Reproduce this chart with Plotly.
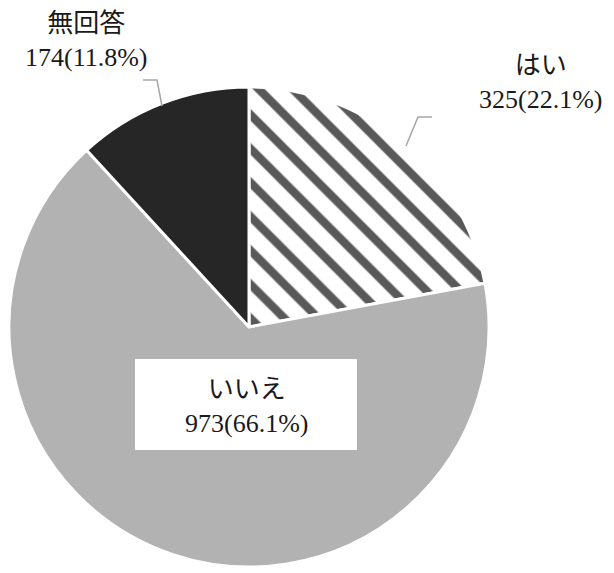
import plotly.graph_objects as go

W, H = 614, 573
OFF = 8  # the page body has an 8px margin

labels = ["はい", "いいえ", "無回答"]
counts = [325, 973, 174]
percents = [22.1, 66.1, 11.8]

colors = ["white", "#b2b2b2", "#262626"]
FONT = "Liberation Serif, DejaVu Serif, Noto Sans CJK JP, serif"

FW, FH = W - OFF, H - OFF


def px(x, y):
    # page pixel position -> paper coords (margins are zero)
    return (x - OFF) / FW, 1 - (y - OFF) / FH


fig = go.Figure()
dx0, dy0 = px(9, 567)
dx1, dy1 = px(489, 87)
fig.add_trace(go.Pie(
    labels=labels, values=counts,
    sort=False, direction="clockwise", rotation=0,
    textinfo="none", hoverinfo="label+value+percent",
    marker=dict(
        colors=colors,
        line=dict(color="white", width=3),
        pattern=dict(
            shape=["\\", "", ""],
            fgcolor="#595959", bgcolor="white",
            size=24, solidity=0.35, fillmode="replace",
        ),
    ),
    domain=dict(x=[dx0, dx1], y=[dy0, dy1]),
    showlegend=False,
))

shapes = []
# white box behind the いいえ label
x0, y0 = px(135, 359)
x1, y1 = px(357, 450)
shapes.append(dict(type="rect", xref="paper", yref="paper", x0=x0, y0=y1, x1=x1, y1=y0,
                   fillcolor="white", line=dict(width=0), layer="above"))

# leader lines
leaders = [
    [(143, 80), (157, 80), (162, 106)],
    [(406, 146), (418, 117), (432, 117)],
]
for pts in leaders:
    path = "M " + " L ".join(f"{px(x, y)[0]},{px(x, y)[1]}" for x, y in pts)
    shapes.append(dict(type="path", xref="paper", yref="paper", path=path,
                       line=dict(color="#a6a6a6", width=1.5), layer="above"))

label_pos = {"はい": (540, 82), "いいえ": (246, 406), "無回答": (86, 40)}
annotations = []
for lab, n, p in zip(labels, counts, percents):
    x, y = px(*label_pos[lab])
    annotations.append(dict(
        x=x, y=y, xref="paper", yref="paper", showarrow=False,
        xanchor="center", yanchor="middle",
        text=f"{lab}<br>{n}({p}%)", align="center",
        font=dict(family=FONT, size=26, color="#1a1a1a"),
    ))

fig.update_layout(
    width=FW, height=FH,
    margin=dict(l=0, r=0, t=0, b=0),
    paper_bgcolor="white", plot_bgcolor="white",
    shapes=shapes, annotations=annotations,
)

fig.write_html("out.html")
